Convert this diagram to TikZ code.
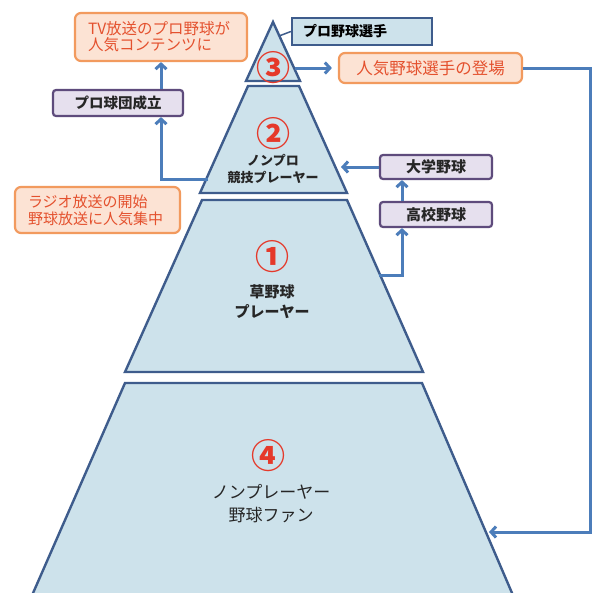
\documentclass[tikz,border=0pt]{standalone}
\usepackage{fontspec}
\setmainfont{Noto Sans CJK JP}
\usetikzlibrary{arrows.meta}
\definecolor{pyfill}{HTML}{CDE2EB}
\definecolor{pyline}{HTML}{3E5C8C}
\definecolor{arr}{HTML}{4C7DBA}
\definecolor{orfill}{HTML}{FCE3D4}
\definecolor{orline}{HTML}{F29A5E}
\definecolor{ortext}{HTML}{E4512E}
\definecolor{pufill}{HTML}{E6E0EE}
\definecolor{puline}{HTML}{5E4B7C}
\definecolor{numred}{HTML}{E5392A}
\tikzset{
  layer/.style={fill=pyfill, draw=pyline, line width=2.4pt, line join=miter},
  num/.style={text=numred, inner sep=0pt, font=\fontsize{34}{34}\selectfont\bfseries},
  lbl/.style={inner sep=0pt, text=black!85, align=center},
  orbox/.style={draw=orline, fill=orfill, line width=2.2pt, rounded corners=6pt, text=ortext, inner ysep=0pt},
  pubox/.style={draw=puline, fill=pufill, line width=2.2pt, rounded corners=3pt, inner sep=0pt, text=black!85, font=\fontsize{15}{15}\selectfont\bfseries},
  conn/.style={draw=arr, line width=3pt, -{Straight Barb[length=5pt,width=11pt]}},
}
\begin{document}
\begin{tikzpicture}[x=1pt,y=-1pt]
\useasboundingbox (0,0) rectangle (596,592);
\clip (0,0) rectangle (596,592);
\fill[white] (0,0) rectangle (596,592);
% pyramid layers
\draw[layer] (273,22) -- (300,81) -- (246,81) -- cycle;
\draw[layer] (248,86) -- (299,86) -- (347,193) -- (200,193) -- cycle;
\draw[layer] (202,200) -- (347,200) -- (423,372) -- (125,372) -- cycle;
\draw[layer] (125,383) -- (422,383) -- (515,600) -- (30,600) -- cycle;
% numbers and labels
\node[num] (n3) at (273,68) {③};
\node[num] (n2) at (273,134) {②};
\node[num] (n1) at (272,257) {①};
\node[num] (n4) at (268,456) {④};
\node[lbl, font=\fontsize{13}{17}\selectfont\bfseries] (t2) at (273,169) {ノンプロ\\競技プレーヤー};
\node[lbl, font=\fontsize{15}{20}\selectfont\bfseries] (t1) at (272,302) {草野球\\プレーヤー};
\node[lbl, font=\fontsize{17}{23}\selectfont] (t4) at (271,504) {ノンプレーヤー\\野球ファン};
% boxes
\node[draw=pyline, fill=pyfill, line width=2.2pt, minimum width=140pt, minimum height=27pt, inner xsep=11pt, inner ysep=0pt,
      text width=118pt, align=left, font=\fontsize{14}{14}\selectfont\bfseries] (pro) at (362,31.5) {プロ野球選手};
\node[orbox, minimum width=183pt, minimum height=30pt, font=\fontsize{16.5}{16.5}\selectfont] (ninki) at (430.5,68) {人気野球選手の登場};
\node[orbox, minimum height=48pt, inner xsep=13pt, text width=146pt, align=left, font=\fontsize{15.5}{16}\selectfont] (tv) at (161,37) {TV放送のプロ野球が\\人気コンテンツに};
\node[orbox, minimum height=46pt, inner xsep=13pt, text width=139pt, align=left, font=\fontsize{15}{17}\selectfont] (radio) at (97.5,210) {ラジオ放送の開始\\野球放送に人気集中};
\node[pubox, minimum width=130pt, minimum height=26pt, font=\fontsize{14.5}{14.5}\selectfont\bfseries] (kyudan) at (118,103) {プロ球団成立};
\node[pubox, minimum width=112pt, minimum height=24pt] (daigaku) at (436,167) {大学野球};
\node[pubox, minimum width=112pt, minimum height=25pt] (koko) at (436,214.5) {高校野球};
% connector coordinates
\coordinate (e3a) at (279,36);
\coordinate (e3) at (295,68);
\coordinate (rt) at (590,68);
\coordinate (e4) at (489,532);
\coordinate (e2l) at (208,179);
\coordinate (ax) at (161,0);
\coordinate (e2r) at (341,167);
\coordinate (bx) at (402,0);
\coordinate (e1r) at (379,275);
% connectors
\draw[pyline, line width=1.5pt] (e3a) -- (pro.west);
\draw[conn, shorten >=6pt] (e3) -- (ninki.west);
\draw[conn] (ninki.east) -- (rt) |- (e4);
\draw[conn] (e2l) -- (e2l -| ax) -- (kyudan.south -| ax);
\draw[conn] (kyudan.north -| ax) -- (tv.south -| ax);
\draw[conn] (daigaku.west) -- (e2r);
\draw[conn] (koko.north -| bx) -- (daigaku.south -| bx);
\draw[conn] (e1r) -| (koko.south -| bx);
\end{tikzpicture}
\end{document}
